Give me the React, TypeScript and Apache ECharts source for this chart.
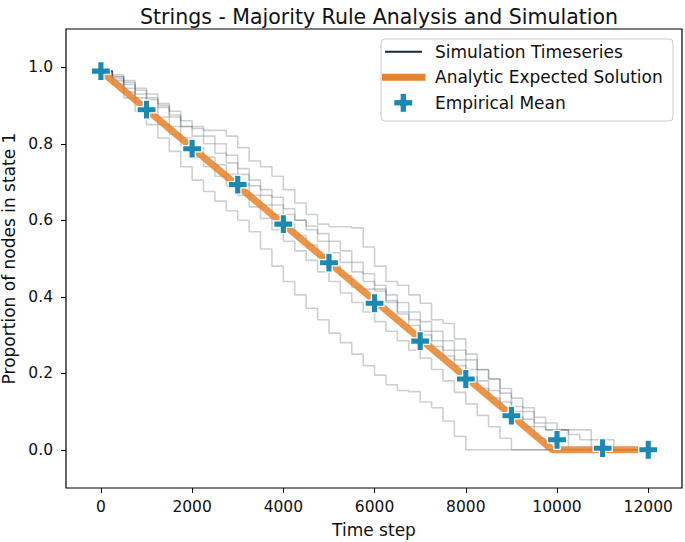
import React, { useEffect, useRef } from "react";
import * as echarts from "echarts";

const TITLE = "Strings - Majority Rule Analysis and Simulation";
const X_NAME = "Time step";
const Y_NAME = "Proportion of nodes in state 1";
const X_TICKS = [0, 2000, 4000, 6000, 8000, 10000, 12000];
const Y_TICKS = [0, 0.2, 0.4, 0.6, 0.8, 1.0];

const SIM_TIME = [
  0, 250, 500, 750, 1000, 1250, 1500, 1750, 2000, 2250, 2500, 2750, 3000, 3250, 3500, 3750,
  4000, 4250, 4500, 4750, 5000, 5250, 5500, 5750, 6000, 6250, 6500, 6750, 7000, 7250, 7500,
  7750, 8000, 8250, 8500, 8750, 9000, 9250, 9500, 9750, 10000, 10250, 10500, 10750, 11000,
  11250, 11500, 11750, 12000,
];
const SIM_A = [0.99,0.975,0.965,0.945,0.93,0.905,0.885,0.845,0.84,0.835,0.835,0.82,0.79,0.755,0.74,0.715,0.68,0.645,0.615,0.59,0.583,0.583,0.58,0.53,0.48,0.44,0.43,0.405,0.383,0.34,0.33,0.29,0.25,0.209,0.185,0.148,0.113,0.1,0.07,0.052,0.052,0.052,0.052,0,0,0,0,0,0];
const SIM_B = [0.99,0.975,0.955,0.93,0.915,0.9,0.875,0.86,0.845,0.82,0.8,0.77,0.735,0.705,0.68,0.66,0.63,0.6,0.575,0.545,0.515,0.49,0.465,0.44,0.415,0.385,0.36,0.34,0.31,0.285,0.26,0.235,0.21,0.18,0.155,0.125,0.1,0.08,0.06,0.052,0.052,0,0,0,0,0,0,0,0];
const SIM_C = [0.99,0.97,0.945,0.92,0.895,0.87,0.845,0.815,0.79,0.765,0.745,0.72,0.695,0.665,0.64,0.615,0.59,0.56,0.535,0.505,0.48,0.455,0.425,0.42,0.42,0.39,0.355,0.325,0.3,0.27,0.245,0.22,0.19,0.16,0.135,0.11,0.085,0.06,0.03,0,0,0,0,0,0,0,0,0,0];
const SIM_D = [0.99,0.965,0.935,0.91,0.875,0.85,0.825,0.795,0.765,0.74,0.715,0.69,0.665,0.635,0.605,0.575,0.545,0.52,0.495,0.465,0.44,0.41,0.385,0.36,0.335,0.31,0.285,0.26,0.24,0.21,0.18,0.15,0.12,0.09,0.06,0.03,0,0,0,0,0,0,0,0,0,0,0,0,0];
const SIM_E = [0.99,0.955,0.92,0.885,0.85,0.815,0.78,0.74,0.705,0.675,0.65,0.625,0.6,0.57,0.525,0.48,0.44,0.405,0.37,0.34,0.305,0.28,0.25,0.22,0.195,0.17,0.155,0.152,0.125,0.11,0.075,0.035,0,0,0,0,0,0,0,0,0,0,0,0,0,0,0,0,0];
const SIM_F = [0.99,0.98,0.96,0.94,0.92,0.895,0.87,0.845,0.82,0.8,0.775,0.75,0.72,0.69,0.665,0.64,0.615,0.6,0.585,0.565,0.545,0.52,0.49,0.46,0.43,0.405,0.385,0.36,0.335,0.31,0.285,0.26,0.235,0.21,0.185,0.16,0.135,0.11,0.085,0.07,0.052,0.04,0.026,0.026,0.026,0,0,0,0];
const SIMS = [SIM_A, SIM_B, SIM_C, SIM_D, SIM_E, SIM_F];

const ANALYTIC_X = [0, 9900, 12000];
const ANALYTIC_Y = [0.99, 0, 0];

const MEAN_X = [0, 1000, 2000, 3000, 4000, 5000, 6000, 7000, 8000, 9000, 10000, 11000, 12000];
const MEAN_Y = [0.99, 0.889, 0.787, 0.693, 0.59, 0.489, 0.383, 0.284, 0.185, 0.089, 0.026, 0.004, 0.0];

const LEGEND_LABELS = ["Simulation Timeseries", "Analytic Expected Solution", "Empirical Mean"];

const FONT = "DejaVu Sans, Liberation Sans, sans-serif";
const SIM_COLOR = "#1c2838";
const ORANGE = "#e8822a";
const BLUE = "#1a89b4";
const PLUS = "path://M-1,-3L1,-3L1,-1L3,-1L3,1L1,1L1,3L-1,3L-1,1L-3,1L-3,-1L-1,-1Z";

function plusPoints(cx: number, cy: number, s: number): number[][] {
  const a = s / 2;
  const t = s / 6;
  return [
    [cx - t, cy - a], [cx + t, cy - a], [cx + t, cy - t], [cx + a, cy - t],
    [cx + a, cy + t], [cx + t, cy + t], [cx + t, cy + a], [cx - t, cy + a],
    [cx - t, cy + t], [cx - a, cy + t], [cx - a, cy - t], [cx - t, cy - t],
  ];
}

export default function App() {
  const ref = useRef<HTMLDivElement>(null);
  useEffect(() => {
    const chart = echarts.init(ref.current!, null, { renderer: "svg" });
    const simSeries = SIMS.map((arr, k) => ({
      type: "line",
      name: LEGEND_LABELS[0],
      id: "sim" + k,
      data: SIM_TIME.map((t, i) => [t, arr[i]]),
      step: "end",
      showSymbol: false,
      symbol: "none",
      lineStyle: { color: SIM_COLOR, width: 1.6, opacity: 0.22 },
      z: 2,
      silent: true,
    }));
    const legendX = 381;
    const legendY = 39;
    const rows = [51.7, 77.2, 102.8];
    chart.setOption({
      animation: false,
      backgroundColor: "#ffffff",
      title: {
        text: TITLE,
        left: 374,
        top: 1,
        textAlign: "center",
        textStyle: { fontFamily: FONT, fontSize: 20.5, fontWeight: "normal", color: "#111" },
      },
      grid: {
        left: 66,
        right: 3,
        top: 29,
        bottom: 54,
        containLabel: false,
        outerBoundsMode: "none",
        show: true,
        borderColor: "#000",
        borderWidth: 1.2,
        backgroundColor: "transparent",
      },
      xAxis: {
        type: "value",
        min: -765,
        max: 12740,
        name: X_NAME,
        nameLocation: "middle",
        nameGap: 33,
        nameTextStyle: { fontFamily: FONT, fontSize: 17, color: "#111" },
        axisLine: { show: false, onZero: false },
        splitLine: { show: false },
        axisTick: { show: true, length: 5, lineStyle: { color: "#000", width: 1 }, customValues: X_TICKS },
        axisLabel: {
          customValues: X_TICKS,
          fontFamily: FONT,
          fontSize: 15.5,
          color: "#111",
          margin: 11,
          formatter: (v: number) => String(v),
        },
      },
      yAxis: {
        type: "value",
        min: -0.1,
        max: 1.1,
        name: Y_NAME,
        nameLocation: "middle",
        nameGap: 49,
        nameRotate: 90,
        nameTextStyle: { fontFamily: FONT, fontSize: 17, color: "#111" },
        axisLine: { show: false, onZero: false },
        splitLine: { show: false },
        axisTick: { show: true, length: 5, lineStyle: { color: "#000", width: 1 }, customValues: Y_TICKS },
        axisLabel: {
          customValues: Y_TICKS,
          fontFamily: FONT,
          fontSize: 15.5,
          color: "#111",
          margin: 13,
          formatter: (v: number) => v.toFixed(1),
        },
      },
      series: [
        ...simSeries,
        {
          type: "line",
          name: LEGEND_LABELS[1],
          data: ANALYTIC_X.map((x, i) => [x, ANALYTIC_Y[i]]),
          showSymbol: false,
          symbol: "none",
          lineStyle: { color: ORANGE, width: 7, opacity: 0.85, cap: "butt" },
          z: 3,
          silent: true,
        },
        {
          type: "scatter",
          name: LEGEND_LABELS[2],
          data: MEAN_X.map((x, i) => [x, MEAN_Y[i]]),
          symbol: PLUS,
          symbolSize: 19,
          itemStyle: { color: BLUE, borderColor: "#ffffff", borderWidth: 1.2, opacity: 1 },
          z: 4,
          silent: true,
        },
      ],
      graphic: [
        {
          type: "group",
          z: 100,
          children: [
            {
              type: "rect",
              shape: { x: legendX, y: legendY, width: 292, height: 82, r: 4 },
              style: { fill: "rgba(255,255,255,0.8)", stroke: "#cccccc", lineWidth: 1 },
            },
            {
              type: "line",
              shape: { x1: 385, y1: rows[0], x2: 422, y2: rows[0] },
              style: { stroke: SIM_COLOR, lineWidth: 2 },
            },
            {
              type: "rect",
              shape: { x: 382, y: rows[1] - 3.5, width: 43.5, height: 7 },
              style: { fill: ORANGE },
            },
            {
              type: "polygon",
              shape: { points: plusPoints(403.3, rows[2], 19) },
              style: { fill: BLUE, stroke: "#ffffff", lineWidth: 1 },
            },
            ...LEGEND_LABELS.map((t, i) => ({
              type: "text",
              x: 435,
              y: rows[i],
              style: {
                text: t,
                fontFamily: FONT,
                fontSize: 17,
                fill: "#111",
                textVerticalAlign: "middle",
                textAlign: "left",
              },
            })),
          ],
        },
      ],
    });
    return () => chart.dispose();
  }, []);
  return (
    <div
      ref={ref}
      style={{ position: "absolute", left: 0, top: 0, width: 685, height: 542 }}
    />
  );
}
